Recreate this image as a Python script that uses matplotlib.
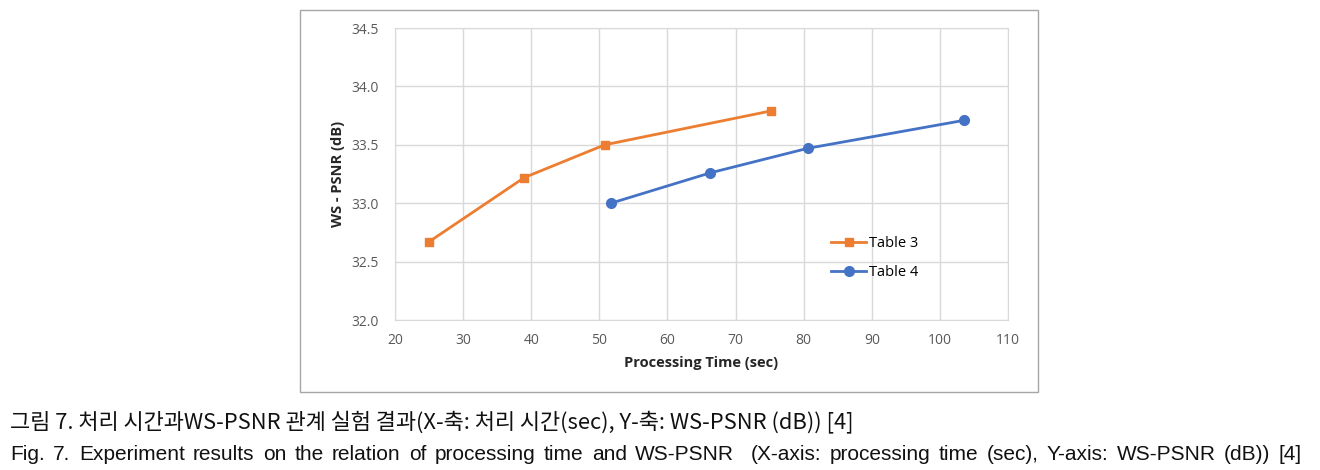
import matplotlib
matplotlib.use("Agg")
import matplotlib.pyplot as plt
from matplotlib.patches import Rectangle
from matplotlib import font_manager

# data
table3_time = [25.0, 39.0, 50.8, 75.2]
table3_psnr = [32.67, 33.22, 33.50, 33.79]
table4_time = [51.7, 66.3, 80.6, 103.6]
table4_psnr = [33.00, 33.26, 33.47, 33.71]
x_ticks = [20, 30, 40, 50, 60, 70, 80, 90, 100, 110]
y_ticks = [32.0, 32.5, 33.0, 33.5, 34.0, 34.5]

caption_kr = "그림 7. 처리 시간과WS-PSNR 관계 실험 결과(X-축: 처리 시간(sec), Y-축: WS-PSNR (dB)) [4]"
caption_en = ("Fig. 7. Experiment results on the relation of processing time and WS-PSNR  "
              "(X-axis: processing time (sec), Y-axis: WS-PSNR (dB)) [4]")

names = {f.name for f in font_manager.fontManager.ttflist}
narrow = "Liberation Sans Narrow" if "Liberation Sans Narrow" in names else "Liberation Sans"
chart_font = ["Open Sans", "DejaVu Sans"]

fig = plt.figure(figsize=(13.2, 4.7), dpi=100)

# chart frame
fig.patches.append(Rectangle((300 / 1320, 1 - 392 / 470), 738 / 1320, 382 / 470,
                             transform=fig.transFigure, fill=False,
                             edgecolor="#a6a6a6", linewidth=1.0))

ax = fig.add_axes([395 / 1320, 1 - 320 / 470, 613 / 1320, 292 / 470])
ax.plot(table3_time, table3_psnr, color="#ED7D31", lw=2, marker="s", ms=6, label="Table 3")
ax.plot(table4_time, table4_psnr, color="#4472C4", lw=2, marker="o", ms=7, label="Table 4")
ax.set_xlim(20, 110)
ax.set_ylim(32.0, 34.5)
ax.set_xticks(x_ticks)
ax.set_yticks(y_ticks)
ax.set_yticklabels([f"{v:.1f}" for v in y_ticks])
ax.grid(True, color="#d9d9d9", lw=1)
ax.set_axisbelow(True)
for s in ax.spines.values():
    s.set_color("#d9d9d9")
ax.tick_params(length=0, labelsize=10, labelcolor="#595959")
ax.tick_params(axis="y", pad=12)
ax.tick_params(axis="x", pad=9)
for lab in ax.get_xticklabels() + ax.get_yticklabels():
    lab.set_family(chart_font)
ax.set_xlabel("Processing Time (sec)", fontsize=10.5, fontweight="bold", family=chart_font,
              color="#262626", labelpad=6)
ax.set_ylabel("WS - PSNR (dB)", fontsize=10.5, fontweight="bold", family=chart_font,
              color="#262626", labelpad=4)
ax.legend(loc="center left", bbox_to_anchor=(0.69, 0.212), frameon=False,
          prop={"family": chart_font, "size": 10.5}, handlelength=2.4,
          handletextpad=0.2, labelspacing=0.95)

# captions
fig.text(10 / 1320, 1 - 428 / 470, caption_kr, fontsize=15.8, va="baseline",
         family=["Noto Sans CJK KR", "DejaVu Sans"], color="#111111")

# second line is justified across the page
words = caption_en.split(" ")
renderer = fig.canvas.get_renderer()
left, right = 10, 1302
y2 = 1 - 460 / 470
size = 16 if narrow != "Liberation Sans" else 15
arts = [fig.text(0, y2, w, fontsize=size, va="baseline", family=[narrow, "DejaVu Sans"],
                 color="#111111") for w in words]
widths = [a.get_window_extent(renderer).width for a in arts]
gap = (right - left - sum(widths)) / (len(words) - 1)
x = left
for a, w in zip(arts, widths):
    a.set_x(x / 1320)
    x += w + gap

fig.savefig("out.png", dpi=100)
